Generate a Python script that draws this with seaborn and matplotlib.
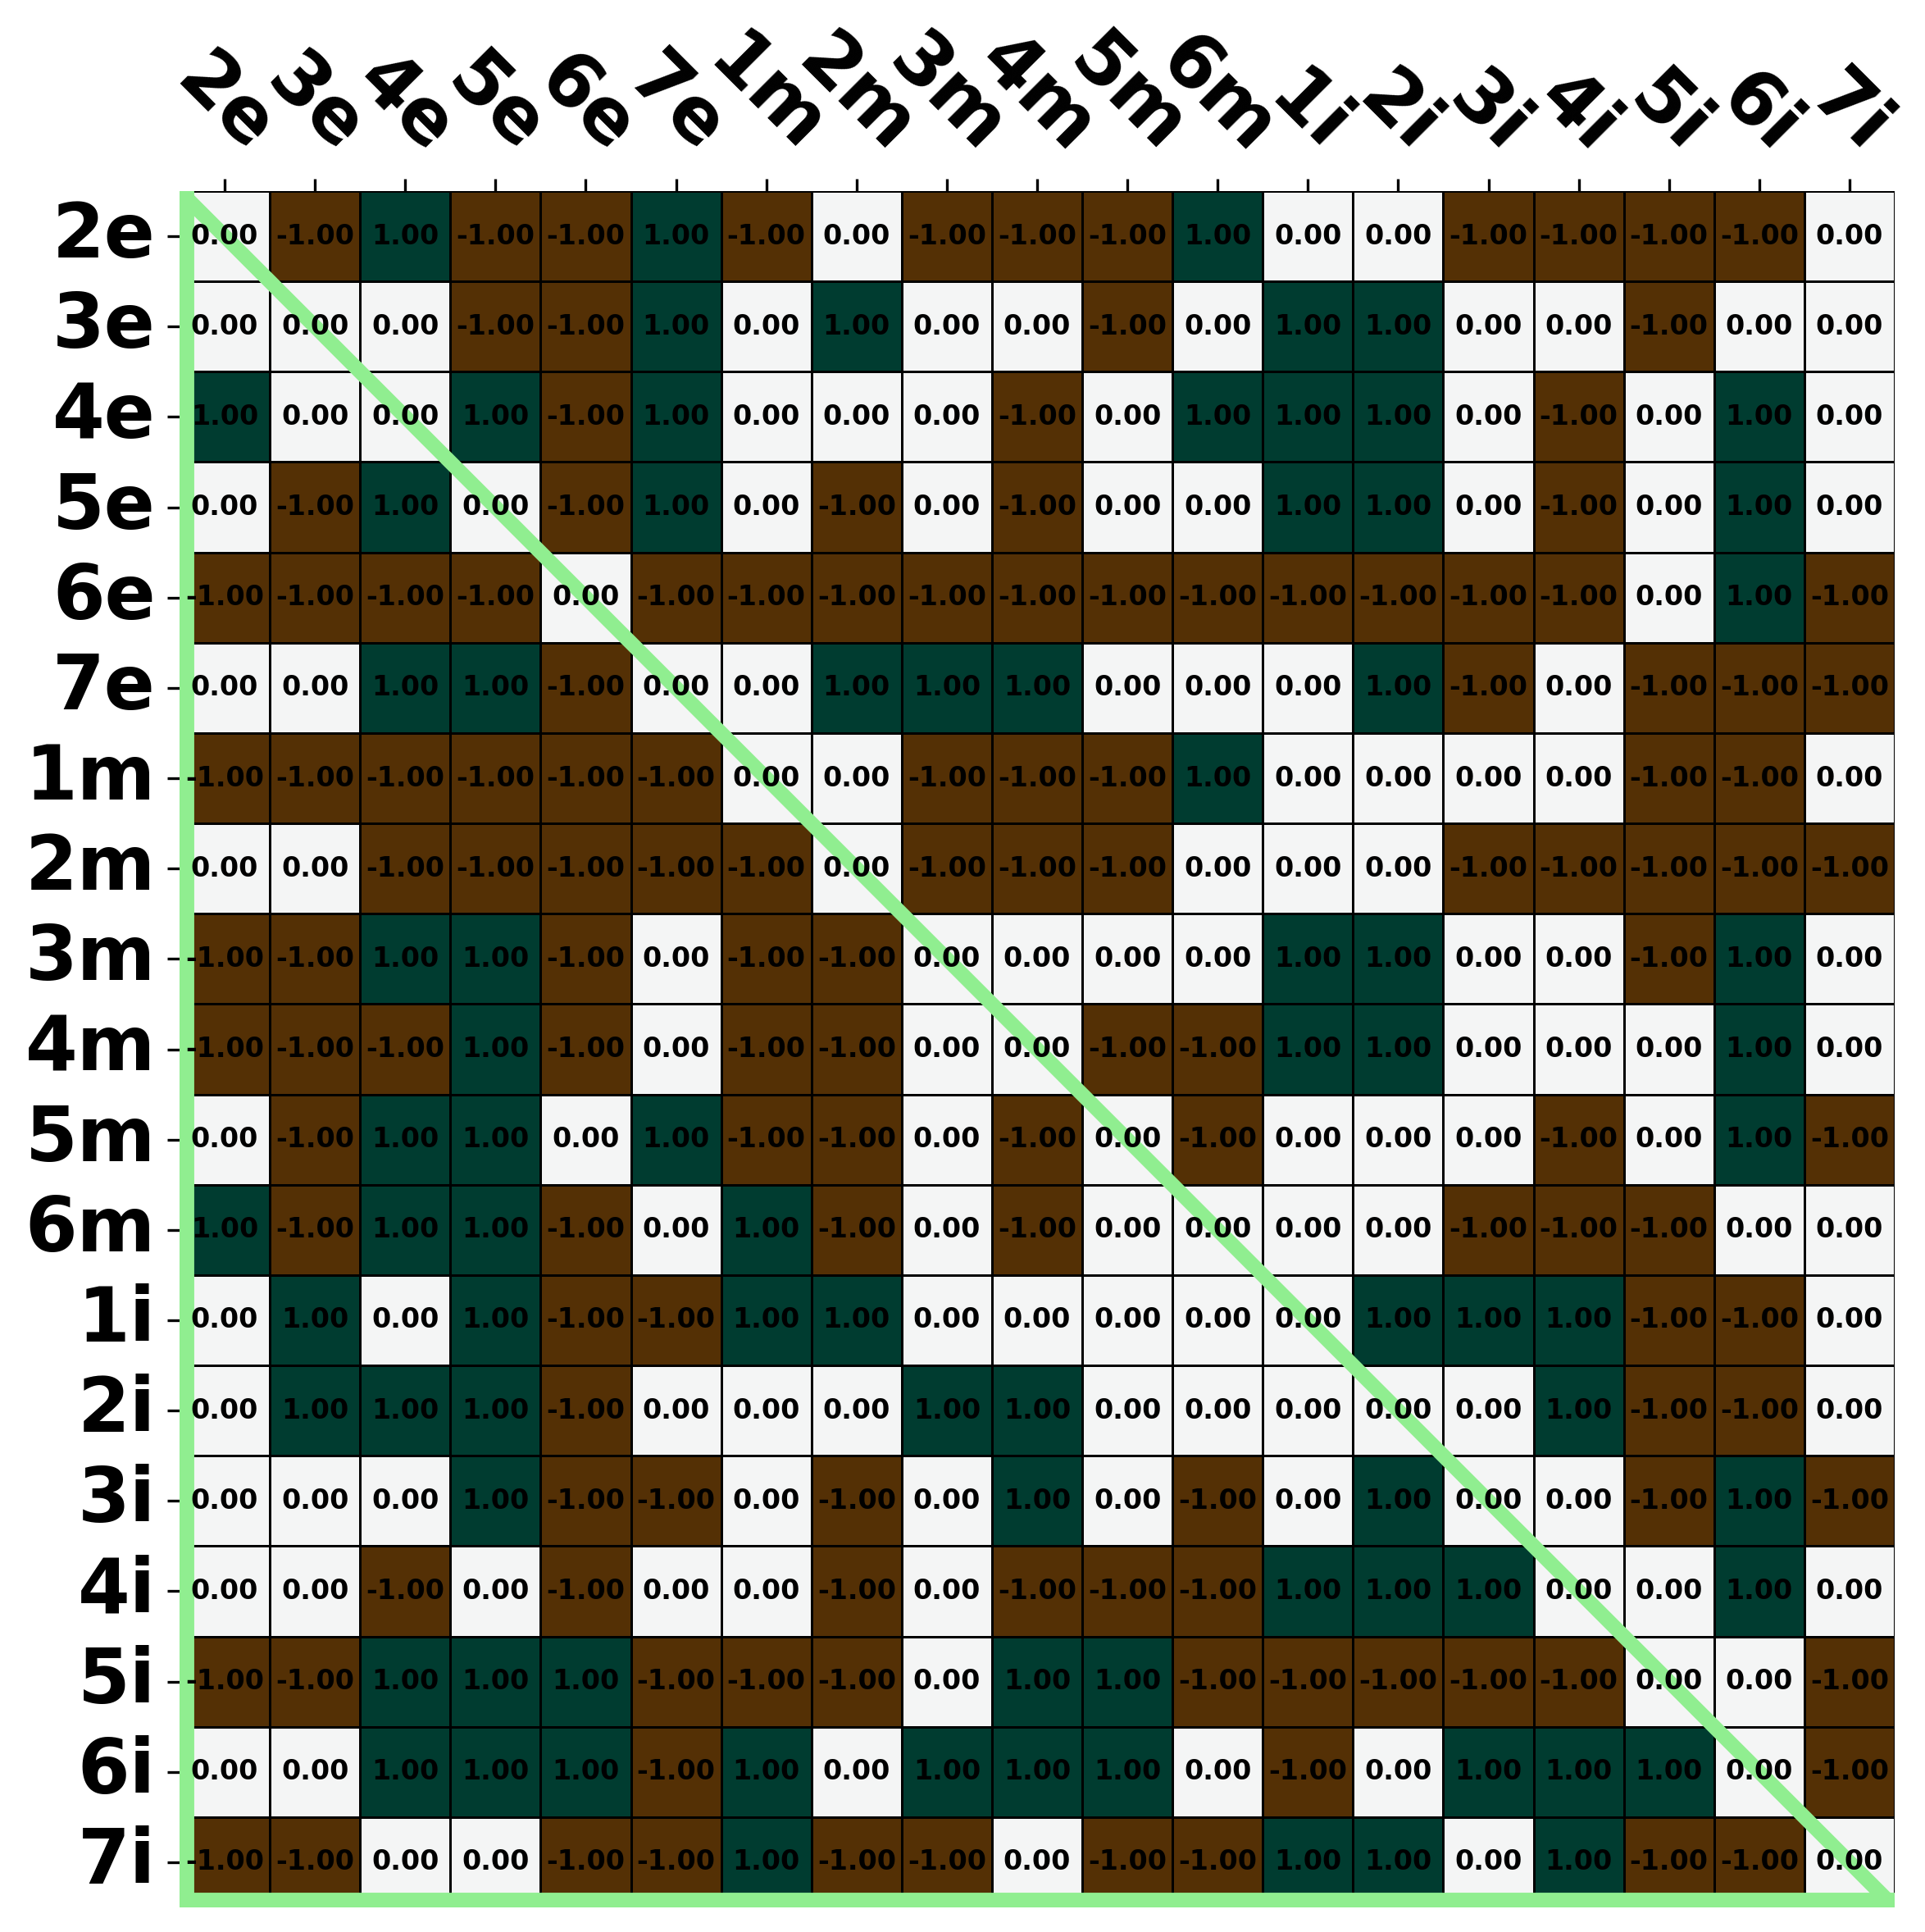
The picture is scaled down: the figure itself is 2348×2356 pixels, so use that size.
import numpy as np
import pandas as pd
import matplotlib
matplotlib.use("Agg")
import matplotlib.pyplot as plt
import seaborn as sb

labels = ['2e', '3e', '4e', '5e', '6e', '7e', '1m', '2m', '3m', '4m', '5m', '6m',
          '1i', '2i', '3i', '4i', '5i', '6i', '7i']

# one list per row
row_2e = [0, -1, 1, -1, -1, 1, -1, 0, -1, -1, -1, 1, 0, 0, -1, -1, -1, -1, 0]
row_3e = [0, 0, 0, -1, -1, 1, 0, 1, 0, 0, -1, 0, 1, 1, 0, 0, -1, 0, 0]
row_4e = [1, 0, 0, 1, -1, 1, 0, 0, 0, -1, 0, 1, 1, 1, 0, -1, 0, 1, 0]
row_5e = [0, -1, 1, 0, -1, 1, 0, -1, 0, -1, 0, 0, 1, 1, 0, -1, 0, 1, 0]
row_6e = [-1, -1, -1, -1, 0, -1, -1, -1, -1, -1, -1, -1, -1, -1, -1, -1, 0, 1, -1]
row_7e = [0, 0, 1, 1, -1, 0, 0, 1, 1, 1, 0, 0, 0, 1, -1, 0, -1, -1, -1]
row_1m = [-1, -1, -1, -1, -1, -1, 0, 0, -1, -1, -1, 1, 0, 0, 0, 0, -1, -1, 0]
row_2m = [0, 0, -1, -1, -1, -1, -1, 0, -1, -1, -1, 0, 0, 0, -1, -1, -1, -1, -1]
row_3m = [-1, -1, 1, 1, -1, 0, -1, -1, 0, 0, 0, 0, 1, 1, 0, 0, -1, 1, 0]
row_4m = [-1, -1, -1, 1, -1, 0, -1, -1, 0, 0, -1, -1, 1, 1, 0, 0, 0, 1, 0]
row_5m = [0, -1, 1, 1, 0, 1, -1, -1, 0, -1, 0, -1, 0, 0, 0, -1, 0, 1, -1]
row_6m = [1, -1, 1, 1, -1, 0, 1, -1, 0, -1, 0, 0, 0, 0, -1, -1, -1, 0, 0]
row_1i = [0, 1, 0, 1, -1, -1, 1, 1, 0, 0, 0, 0, 0, 1, 1, 1, -1, -1, 0]
row_2i = [0, 1, 1, 1, -1, 0, 0, 0, 1, 1, 0, 0, 0, 0, 0, 1, -1, -1, 0]
row_3i = [0, 0, 0, 1, -1, -1, 0, -1, 0, 1, 0, -1, 0, 1, 0, 0, -1, 1, -1]
row_4i = [0, 0, -1, 0, -1, 0, 0, -1, 0, -1, -1, -1, 1, 1, 1, 0, 0, 1, 0]
row_5i = [-1, -1, 1, 1, 1, -1, -1, -1, 0, 1, 1, -1, -1, -1, -1, -1, 0, 0, -1]
row_6i = [0, 0, 1, 1, 1, -1, 1, 0, 1, 1, 1, 0, -1, 0, 1, 1, 1, 0, -1]
row_7i = [-1, -1, 0, 0, -1, -1, 1, -1, -1, 0, -1, -1, 1, 1, 0, 1, -1, -1, 0]

rows = [row_2e, row_3e, row_4e, row_5e, row_6e, row_7e, row_1m, row_2m, row_3m,
        row_4m, row_5m, row_6m, row_1i, row_2i, row_3i, row_4i, row_5i, row_6i, row_7i]
df = pd.DataFrame(np.array(rows, dtype=float), index=labels, columns=labels)
n = len(labels)

fig = plt.figure(figsize=(2348 / 300, 2356 / 300), dpi=300)
ax = fig.add_axes([219 / 2348, 1 - 2326 / 2356, 2092 / 2348, 2093 / 2356])

sb.heatmap(df, cmap='BrBG', vmin=-1, vmax=1, annot=True, fmt='.2f',
           annot_kws={'size': 8, 'weight': 'bold', 'color': 'black'},
           linewidths=0.7, linecolor='black', cbar=False, ax=ax)

# lower triangle outline
ax.plot([0, n], [0, n], color='lightgreen', lw=4.3)
ax.axvline(0, color='lightgreen', lw=8.6)
ax.axhline(n, color='lightgreen', lw=8.6)

ax.xaxis.tick_top()
ax.set_xticklabels(labels, rotation=-45, fontsize=22, fontweight='bold')
ax.set_yticklabels(labels, rotation=0, fontsize=22, fontweight='bold')
ax.set_xlabel('')
ax.set_ylabel('')

fig.savefig('out.png', dpi=300)
